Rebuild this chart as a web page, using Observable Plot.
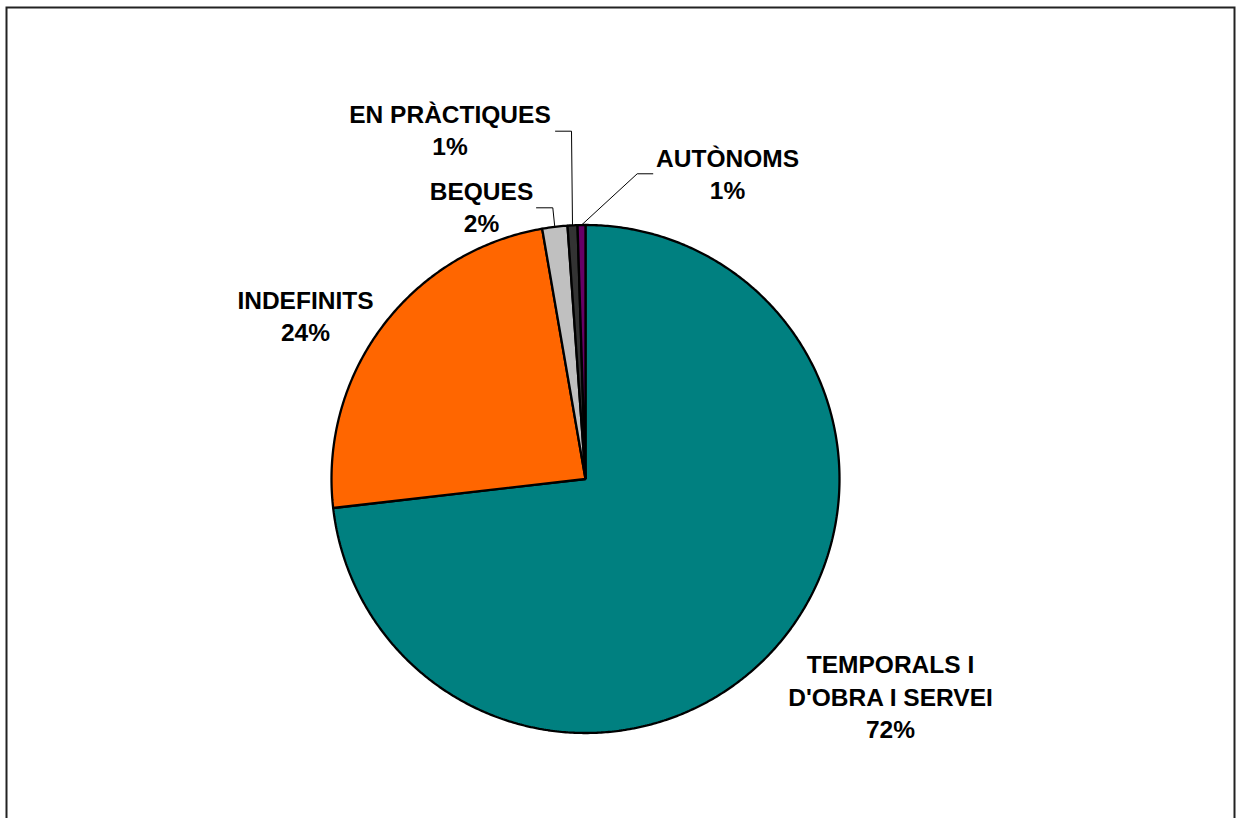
<!DOCTYPE html>
<html><head><meta charset="utf-8">
<script src="https://cdn.jsdelivr.net/npm/d3@7"></script>
<script src="https://cdn.jsdelivr.net/npm/@observablehq/plot@0.6"></script>
<style>
html,body{margin:0;padding:0;background:#fff;}
#chart svg{display:block;}
</style></head><body><div id="chart"></div>
<script>
// ---- data ----
const categories = ["TEMPORALS I\nD'OBRA I SERVEI", "INDEFINITS", "BEQUES", "EN PRÀCTIQUES", "AUTÒNOMS"];
const shares = [73.2, 24.1, 1.6, 0.63, 0.5];
const percentLabels = ["72%", "24%", "2%", "1%", "1%"];

// ---- styles ----
const colors = ["#008080", "#FF6600", "#C0C0C0", "#333333", "#660066"];

// ---- layout (units of pie radius, pie centre at 0,0) ----
const labelPos = [[1.2008, -0.8514], [-1.1024, 0.6458], [-0.4094, 1.0750], [-0.5335, 1.3789], [0.5591, 1.2065]];
const leaderPath = [null, null,
  [[-0.1929, 1.0677], [-0.1287, 1.0677]],
  [[-0.1181, 1.3693], [-0.0551, 1.3693]],
  [[0.2650, 1.2016], [0.2035, 1.2016]]];

const W = 1239, H = 818, cx = 585, cy = 478.5, R = 254;

const arcs = d3.pie().sort(null).value(d => d)(shares);
const slicePts = [];
arcs.forEach((a, i) => {
  slicePts.push({name: categories[i], x: 0, y: 0});
  const n = Math.max(2, Math.ceil((a.endAngle - a.startAngle) / (Math.PI / 360)));
  for (let k = 0; k <= n; k++) {
    const t = a.startAngle + (a.endAngle - a.startAngle) * k / n;
    slicePts.push({name: categories[i], x: Math.sin(t), y: Math.cos(t)});
  }
});

const leaderPts = [];
arcs.forEach((a, i) => {
  if (!leaderPath[i]) return;
  const mid = (a.startAngle + a.endAngle) / 2;
  leaderPath[i].forEach(p => leaderPts.push({name: categories[i], x: p[0], y: p[1]}));
  leaderPts.push({name: categories[i], x: Math.sin(mid), y: Math.cos(mid)});
});

const labelData = categories.map((c, i) => ({
  text: c + "\n" + percentLabels[i], x: labelPos[i][0], y: labelPos[i][1]
}));

const chart = Plot.plot({
  width: W, height: H, margin: 0,
  x: {domain: [-cx / R, (W - cx) / R], axis: null},
  y: {domain: [(cy - H) / R, cy / R], axis: null},
  color: {domain: categories, range: colors},
  marks: [
    Plot.frame({stroke: "#222", strokeWidth: 2, insetLeft: 6, insetTop: 7, insetRight: 5, insetBottom: -20}),
    Plot.line(slicePts, {x: "x", y: "y", z: "name", fill: "name", stroke: "black", strokeWidth: 2.3, curve: "linear-closed", strokeLinejoin: "miter"}),
    Plot.line(leaderPts, {x: "x", y: "y", z: "name", stroke: "black", strokeWidth: 1}),
    Plot.text(labelData, {x: "x", y: "y", text: "text", fontSize: 24.5, fontWeight: "bold",
      fontFamily: "'Liberation Sans', Arial, sans-serif", lineHeight: 1.31, fill: "black", textAnchor: "middle"})
  ]
});
document.getElementById("chart").appendChild(chart);
</script>
</body></html>
